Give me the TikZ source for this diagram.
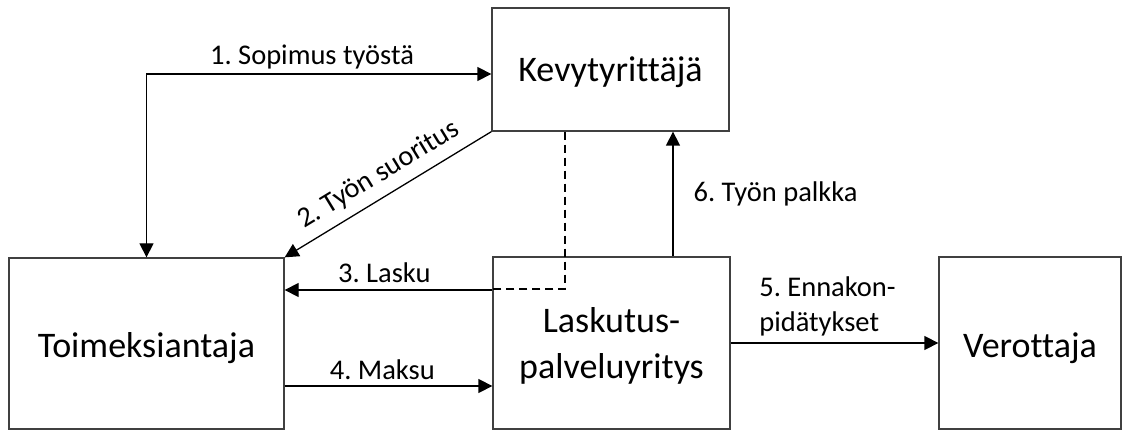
\documentclass[tikz,border=0pt]{standalone}
\usepackage{fontspec}
\setmainfont{Carlito}[Ligatures={NoCommon}]
\usetikzlibrary{arrows.meta}
\frenchspacing
\begin{document}
\begin{tikzpicture}[x=1pt,y=-1pt,
  box/.style={draw=black!75, line width=1.3pt, inner sep=0pt, font=\fontsize{36}{46}\selectfont, text depth=0pt},
  lbl/.style={inner sep=0pt, font=\fontsize{28.5}{35}\selectfont},
  tip/.tip={Triangle[length=14pt,width=14pt]},
  arr/.style={line width=1.3pt, -tip},
  dash line/.style={line width=1.8pt, dash pattern=on 8pt off 5pt},
]
\useasboundingbox (0,0) rectangle (1122,430);
\node[box, minimum width=275pt, minimum height=171pt, text height=29pt] (T) at (146.5,343.5) {Toimeksiantaja};
\node[box, minimum width=237pt, minimum height=123pt, text height=25pt] (K) at (610.5,69.5) {Kevytyrittäjä};
\node[box, minimum width=237pt, minimum height=172pt, text height=70pt, align=center] (L) at (611.5,343) {Laskutus-\\palveluyritys};
\node[box, minimum width=182pt, minimum height=172pt, text height=30pt] (V) at (1030,343) {Verottaja};

% 1
\draw[line width=1.3pt, tip-tip] (T.north) |- ([yshift=-4.5pt]K.west)
  node[lbl, pos=0.74, above=4.5pt] (l1) {1. Sopimus työstä};
% 2
\draw[arr] (K.south west) -- (T.north east)
  node[lbl, pos=0.49, sloped, above=9pt] (l2) {2. Työn suoritus};
% 3
\draw[arr] ([yshift=53pt]L.west) -- ([yshift=53pt]L.west -| T.east)
  node[lbl, pos=0.52, above=7pt] (l3) {3. Lasku};
% 4
\draw[arr] ([yshift=-42.5pt]T.east) -- ([yshift=-42.5pt]T.east -| L.west)
  node[lbl, pos=0.47, above=6pt] (l4) {4. Maksu};
% 5
\draw[arr] (L.east) -- (L.east -| V.west)
  node[lbl, pos=0, anchor=south west, xshift=28pt, yshift=6.5pt, align=left] (l5) {5. Ennakon-\\pidätykset};
% 6
\draw[arr] ([xshift=61.5pt]L.north) -- ([xshift=61.5pt]L.north |- K.south)
  node[lbl, midway, right=20pt] (l6) {6. Työn palkka};
% dashed
\draw[dash line] ([xshift=-45.5pt]K.south) |- ([yshift=54pt]L.west);
\end{tikzpicture}
\end{document}
